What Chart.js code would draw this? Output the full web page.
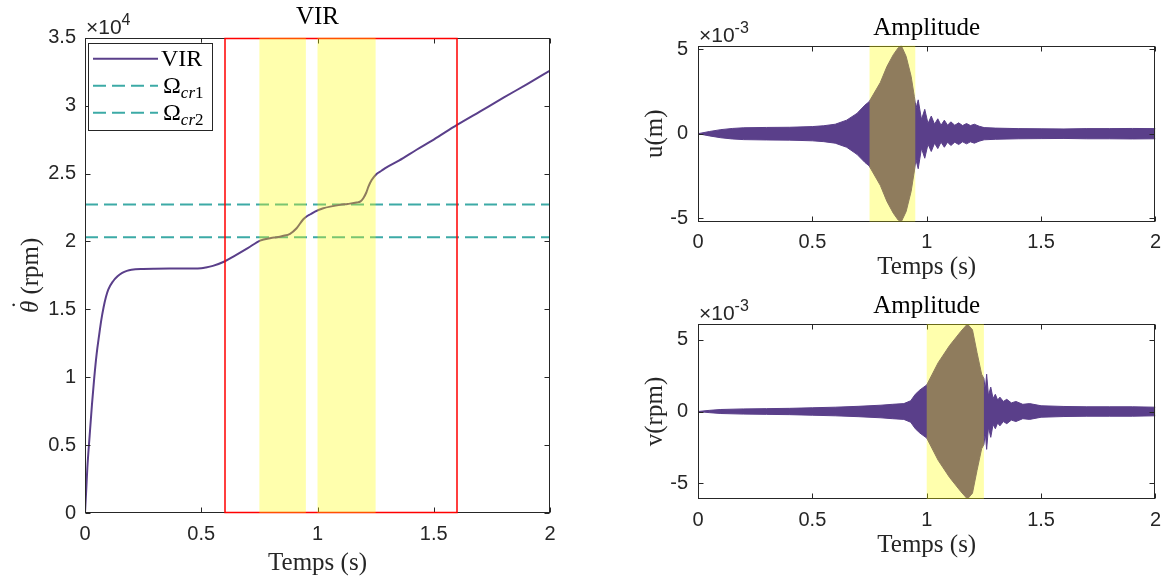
<!DOCTYPE html>
<html>
<head>
<meta charset="utf-8">
<script src="https://cdn.jsdelivr.net/npm/chart.js@4.4.1/dist/chart.umd.min.js"></script>
<style>
  html, body { margin: 0; padding: 0; background: #ffffff; }
  body { width: 1169px; height: 579px; overflow: hidden; position: relative; }
  canvas { position: absolute; }
</style>
</head>
<body>
<canvas id="c1" width="580" height="579" style="left:0;top:0"></canvas>
<canvas id="c2" width="570" height="290" style="left:600px;top:0"></canvas>
<canvas id="c3" width="570" height="289" style="left:600px;top:290px"></canvas>
<script>
// ---------------- data ----------------
const xTicks = [0, 0.5, 1, 1.5, 2];
const xTickLabels = ['0', '0.5', '1', '1.5', '2'];
const virTicks = [0, 5000, 10000, 15000, 20000, 25000, 30000, 35000];
const virTickLabels = ['0', '0.5', '1', '1.5', '2', '2.5', '3', '3.5'];
const ampTicks = [-5, 0, 5];
const ampTickLabels = ['-5', '0', '5'];

// VIR : rotor speed (rpm) vs time (s)
const virTime = [0, 0.005, 0.01, 0.02, 0.03, 0.04, 0.05, 0.06, 0.07, 0.08, 0.09, 0.1, 0.12, 0.14, 0.16, 0.18, 0.2, 0.25, 0.3, 0.4, 0.5, 0.52, 0.55, 0.6, 0.638, 0.7, 0.753, 0.8, 0.825, 0.85, 0.882, 0.91, 0.939, 0.953, 0.97, 0.989, 1.025, 1.06, 1.097, 1.13, 1.168, 1.185, 1.197, 1.21, 1.219, 1.233, 1.254, 1.275, 1.297, 1.35, 1.426, 1.5, 1.6, 1.7, 1.8, 1.9, 2.0];
const virSpeed = [0, 1600, 3300, 5700, 8000, 10000, 11700, 13000, 14200, 15150, 15900, 16450, 17050, 17430, 17680, 17830, 17910, 17970, 17990, 18000, 18030, 18080, 18200, 18520, 18880, 19500, 20060, 20250, 20310, 20400, 20560, 20970, 21630, 21830, 22000, 22190, 22440, 22580, 22690, 22760, 22860, 22950, 23180, 23600, 24030, 24520, 24970, 25200, 25450, 25950, 26750, 27500, 28580, 29580, 30580, 31570, 32570];
const omegaCr = [22710, 20310];
const omegaLabels = ['Ω_cr1', 'Ω_cr2'];
const virBox = [0.6, 1.6, 0, 35000];          // t start, t end, speed low, speed high
const virBands = [[0.75, 0.95], [1.0, 1.25]];

// u amplitude envelope (x 1e-3 m)
const uTime = [0, 0.05, 0.1, 0.15, 0.2, 0.3, 0.4, 0.5, 0.55, 0.6, 0.65, 0.695, 0.73, 0.748, 0.797, 0.826, 0.854, 0.875, 0.889, 0.91, 0.932, 0.946, 0.95, 0.9514, 0.9628, 0.9771, 0.9914, 1.0056, 1.0199, 1.0342, 1.0484, 1.0627, 1.077, 1.0912, 1.1055, 1.1226, 1.1397, 1.1569, 1.174, 1.1911, 1.2082, 1.2296, 1.251, 1.3, 1.4, 1.5, 1.6, 1.7, 1.8, 1.9, 2.0];
const uUpper = [0, 0.13, 0.24, 0.31, 0.35, 0.37, 0.38, 0.42, 0.47, 0.56, 0.8, 1.2, 1.69, 1.89, 3.02, 3.97, 4.67, 5.07, 5.2, 4.57, 3.38, 2.19, 1.8, 1.4, 2.0, 0.84, 1.44, 0.6, 1.04, 0.56, 0.88, 0.5, 0.8, 0.5, 0.7, 0.5, 0.64, 0.48, 0.6, 0.48, 0.56, 0.44, 0.36, 0.33, 0.3, 0.29, 0.28, 0.3, 0.3, 0.31, 0.3];
const uLower = [0, -0.13, -0.24, -0.31, -0.35, -0.37, -0.38, -0.42, -0.47, -0.56, -0.8, -1.22, -1.7, -1.9, -3.05, -4.0, -4.7, -5.1, -5.2, -4.6, -3.4, -2.2, -1.8, -1.45, -2.07, -0.86, -1.45, -0.62, -1.05, -0.56, -0.88, -0.5, -0.8, -0.5, -0.7, -0.5, -0.64, -0.48, -0.6, -0.48, -0.56, -0.44, -0.36, -0.33, -0.3, -0.29, -0.28, -0.3, -0.3, -0.31, -0.3];
const uBands = [[0.75, 0.95]];

// v amplitude envelope (x 1e-3)
const vTime = [0, 0.05, 0.1, 0.2, 0.3, 0.4, 0.5, 0.6, 0.7, 0.8, 0.85, 0.9, 0.93, 0.95, 0.97, 1.0, 1.05, 1.1, 1.15, 1.178, 1.2, 1.22, 1.24, 1.25, 1.256, 1.262, 1.27, 1.28, 1.29, 1.3, 1.31, 1.32, 1.335, 1.35, 1.37, 1.39, 1.42, 1.45, 1.5, 1.6, 1.7, 1.8, 1.9, 2.0];
const vUpper = [0, 0.08, 0.14, 0.18, 0.2, 0.22, 0.26, 0.3, 0.36, 0.44, 0.5, 0.55, 0.75, 1.2, 1.5, 1.85, 3.4, 4.6, 5.6, 6.1, 5.7, 4.1, 2.6, 2.3, 1.5, 2.6, 1.1, 1.7, 0.9, 1.2, 0.8, 1.0, 0.7, 0.85, 0.6, 0.7, 0.5, 0.55, 0.4, 0.35, 0.33, 0.33, 0.33, 0.3];
const vLower = [0, -0.08, -0.14, -0.18, -0.2, -0.22, -0.26, -0.3, -0.36, -0.44, -0.5, -0.55, -0.75, -1.2, -1.5, -1.85, -3.4, -4.6, -5.6, -6.1, -5.7, -4.1, -2.6, -2.3, -1.5, -2.64, -1.1, -1.8, -0.9, -1.2, -0.8, -1.0, -0.7, -0.85, -0.6, -0.7, -0.5, -0.55, -0.4, -0.35, -0.33, -0.33, -0.33, -0.3];
const vBands = [[1.0, 1.25]];

// ---------------- style ----------------
const PURPLE = '#5a3f8a';
const TEAL = '#3caaa6';
const AXIS = '#262626';
const SANS = '"Liberation Sans", Arial, sans-serif';
const TICKFONT = { family: SANS, size: 20 };
const SERIF = '"Liberation Serif", "Times New Roman", serif';
const SERIF_SIZE = 25;

function pts(xs, ys) { return xs.map((x, i) => ({ x: x, y: ys[i] })); }

const matlabPlugin = {
  id: 'matlab',
  afterDatasetsDraw(chart, args, opts) {
    const { ctx, chartArea: a, scales: { x, y } } = chart;
    const L = Math.round(a.left) + 0.5, R = Math.round(a.right) - 0.5;
    const T = Math.round(a.top) + 0.5, B = Math.round(a.bottom) - 0.5;
    ctx.save();
    // axes box
    ctx.strokeStyle = AXIS; ctx.lineWidth = 1; ctx.setLineDash([]);
    ctx.strokeRect(L, T, R - L, B - T);
    // inward ticks on all four sides
    const tl = 5;
    ctx.beginPath();
    x.ticks.forEach(t => {
      const px = Math.round(x.getPixelForValue(t.value)) + 0.5;
      ctx.moveTo(px, B); ctx.lineTo(px, B - tl);
      ctx.moveTo(px, T); ctx.lineTo(px, T + tl);
    });
    y.ticks.forEach(t => {
      const py = Math.round(y.getPixelForValue(t.value)) + 0.5;
      ctx.moveTo(L, py); ctx.lineTo(L + tl, py);
      ctx.moveTo(R, py); ctx.lineTo(R - tl, py);
    });
    ctx.stroke();
    // red rectangle
    if (opts.box) {
      const b = opts.box;
      const x0 = Math.round(x.getPixelForValue(b[0])), x1 = Math.round(x.getPixelForValue(b[1]));
      const y0 = Math.round(y.getPixelForValue(b[2])) - 0.5, y1 = Math.round(y.getPixelForValue(b[3])) + 0.5;
      ctx.strokeStyle = '#ff0000'; ctx.lineWidth = 1.5;
      ctx.beginPath();
      ctx.moveTo(x0, y0); ctx.lineTo(x0, y1); ctx.lineTo(x1, y1); ctx.lineTo(x1, y0); ctx.closePath();
      ctx.stroke();
    }
    // translucent yellow bands
    ctx.fillStyle = 'rgba(255,255,0,0.32)';
    (opts.bands || []).forEach(bd => {
      const x0 = x.getPixelForValue(bd[0]), x1 = x.getPixelForValue(bd[1]);
      ctx.fillRect(x0, a.top, x1 - x0, a.bottom - a.top);
    });
    // exponent label
    if (opts.exponent) {
      ctx.fillStyle = AXIS;
      ctx.textBaseline = 'alphabetic'; ctx.textAlign = 'left';
      ctx.font = '21px ' + SANS;
      const bx = a.left + 1, by = a.top - 4;
      ctx.fillText('×10', bx, by);
      const w = ctx.measureText('×10').width;
      ctx.font = '16px ' + SANS;
      ctx.fillText(opts.exponent, bx + w, by - 9);
    }
    // custom y label with dotted theta
    if (opts.thetaLabel) {
      const cx = opts.thetaLabel.x, cy = (a.top + a.bottom) / 2;
      ctx.save();
      ctx.translate(cx, cy);
      ctx.rotate(-Math.PI / 2);
      ctx.fillStyle = AXIS; ctx.textBaseline = 'middle'; ctx.textAlign = 'left';
      const fTheta = 'italic ' + SERIF_SIZE + 'px ' + SERIF, fRest = SERIF_SIZE + 'px ' + SERIF;
      ctx.font = fTheta; const wT = ctx.measureText('θ').width;
      ctx.font = fRest; const wR = ctx.measureText(' (rpm)').width;
      const sx = -(wT + wR) / 2;
      ctx.font = fTheta; ctx.fillText('θ', sx, 0);
      ctx.font = fRest; ctx.fillText('˙', sx + wT / 2 - 2, -9);
      ctx.fillText(' (rpm)', sx + wT, 0);
      ctx.restore();
    }
    // legend
    if (opts.legend) {
      const lx = a.left + 3, ly = a.top + 5, lw = 124, lh = 87;
      ctx.fillStyle = '#ffffff';
      ctx.fillRect(lx, ly, lw, lh);
      ctx.strokeStyle = AXIS; ctx.lineWidth = 1;
      ctx.strokeRect(Math.round(lx) + 0.5, Math.round(ly) + 0.5, lw, lh);
      chart.data.datasets.forEach((ds, i) => {
        const cy = ly + 16 + i * 27;
        ctx.strokeStyle = ds.borderColor; ctx.lineWidth = 2;
        ctx.setLineDash(ds.borderDash || []);
        ctx.beginPath(); ctx.moveTo(lx + 5, cy); ctx.lineTo(lx + 70, cy); ctx.stroke();
        ctx.setLineDash([]);
        ctx.fillStyle = '#000000';
        ctx.textBaseline = 'alphabetic'; ctx.textAlign = 'left';
        const base = cy + 7;
        const m = ds.label.match(/^(.*?)_(.*)$/);
        ctx.font = '24px ' + SERIF;
        if (!m) { ctx.fillText(ds.label, lx + 73, base); return; }
        ctx.fillText(m[1], lx + 75, base);
        let cx = lx + 75 + ctx.measureText(m[1]).width;
        for (const ch of m[2]) {
          ctx.font = (/\d/.test(ch) ? '' : 'italic ') + '17px ' + SERIF;
          ctx.fillText(ch, cx, base + 5);
          cx += ctx.measureText(ch).width;
        }
      });
    }
    ctx.restore();
  }
};

function xScale(titlePadBottom, height) {
  return {
    type: 'linear', min: 0, max: 2,
    afterBuildTicks: s => { s.ticks = xTicks.map(v => ({ value: v })); },
    afterFit: s => { s.height = height; },
    ticks: { callback: (v, i) => xTickLabels[i], font: TICKFONT, color: AXIS, padding: 9, maxRotation: 0, autoSkip: false },
    grid: { display: false, drawTicks: false },
    border: { display: false },
    title: { display: true, text: 'Temps (s)', font: { family: SERIF, size: SERIF_SIZE }, color: AXIS, padding: { top: 0, bottom: titlePadBottom } }
  };
}
function yScale(min, max, ticks, labels, title, width, titlePad, tickPad) {
  return {
    type: 'linear', min: min, max: max,
    afterBuildTicks: s => { s.ticks = ticks.map(v => ({ value: v })); },
    afterFit: s => { s.width = width; },
    ticks: { callback: (v, i) => labels[i], font: TICKFONT, color: AXIS, padding: tickPad, autoSkip: false },
    grid: { display: false, drawTicks: false },
    border: { display: false },
    title: { display: title !== null, text: title || '', font: { family: SERIF, size: SERIF_SIZE }, color: AXIS, padding: { top: titlePad, bottom: 0 } }
  };
}
function titleOpt(text, top, bottom) {
  return { display: true, fullSize: false, text: text, color: '#000000', font: { family: SERIF, size: SERIF_SIZE, weight: 'normal' }, padding: { top: top, bottom: bottom } };
}

Chart.defaults.animation = false;

// ---------- chart 1 : VIR ----------
new Chart(document.getElementById('c1'), {
  type: 'line',
  data: {
    datasets: [
      { label: 'VIR', data: pts(virTime, virSpeed), borderColor: PURPLE, borderWidth: 2, pointRadius: 0, cubicInterpolationMode: 'monotone', fill: false },
      { label: omegaLabels[0], data: pts([0, 2], [omegaCr[0], omegaCr[0]]), borderColor: TEAL, borderWidth: 2, borderDash: [13, 6], pointRadius: 0, fill: false },
      { label: omegaLabels[1], data: pts([0, 2], [omegaCr[1], omegaCr[1]]), borderColor: TEAL, borderWidth: 2, borderDash: [13, 6], pointRadius: 0, fill: false }
    ]
  },
  options: {
    responsive: false, animation: false, parsing: false,
    layout: { padding: { left: 0, right: 30, top: 0, bottom: 0 } },
    scales: {
      x: xScale(1, 66),
      y: yScale(0, 35000, virTicks, virTickLabels, null, 85, 0, 9)
    },
    plugins: {
      legend: { display: false }, tooltip: { enabled: false },
      title: titleOpt('VIR', 2.5, 5.2),
      matlab: { box: virBox, bands: virBands, exponent: '4', legend: true, thetaLabel: { x: 31 } }
    }
  },
  plugins: [matlabPlugin]
});

// ---------- chart 2 : u amplitude ----------
new Chart(document.getElementById('c2'), {
  type: 'line',
  data: {
    datasets: [
      { label: 'u+', data: pts(uTime, uUpper), borderColor: PURPLE, backgroundColor: PURPLE, borderWidth: 1, pointRadius: 0, tension: 0, fill: '+1' },
      { label: 'u-', data: pts(uTime, uLower), borderColor: PURPLE, borderWidth: 1, pointRadius: 0, tension: 0, fill: false }
    ]
  },
  options: {
    responsive: false, animation: false, parsing: false,
    layout: { padding: { left: 0, right: 5, top: 0, bottom: 0 } },
    scales: {
      x: xScale(8, 68.3),
      y: yScale(-5.2, 5.2, ampTicks, ampTickLabels, 'u(m)', 98, 40, 10)
    },
    plugins: {
      legend: { display: false }, tooltip: { enabled: false },
      title: titleOpt('Amplitude', 13, 2.7),
      matlab: { bands: uBands, exponent: '-3' }
    }
  },
  plugins: [matlabPlugin]
});

// ---------- chart 3 : v amplitude ----------
new Chart(document.getElementById('c3'), {
  type: 'line',
  data: {
    datasets: [
      { label: 'v+', data: pts(vTime, vUpper), borderColor: PURPLE, backgroundColor: PURPLE, borderWidth: 1, pointRadius: 0, tension: 0, fill: '+1' },
      { label: 'v-', data: pts(vTime, vLower), borderColor: PURPLE, borderWidth: 1, pointRadius: 0, tension: 0, fill: false }
    ]
  },
  options: {
    responsive: false, animation: false, parsing: false,
    layout: { padding: { left: 0, right: 5, top: 0, bottom: 0 } },
    scales: {
      x: xScale(19, 80),
      y: yScale(-6.1, 6.1, ampTicks, ampTickLabels, 'v(rpm)', 98, 40, 10)
    },
    plugins: {
      legend: { display: false }, tooltip: { enabled: false },
      title: titleOpt('Amplitude', 1, 3),
      matlab: { bands: vBands, exponent: '-3' }
    }
  },
  plugins: [matlabPlugin]
});
</script>
</body>
</html>
